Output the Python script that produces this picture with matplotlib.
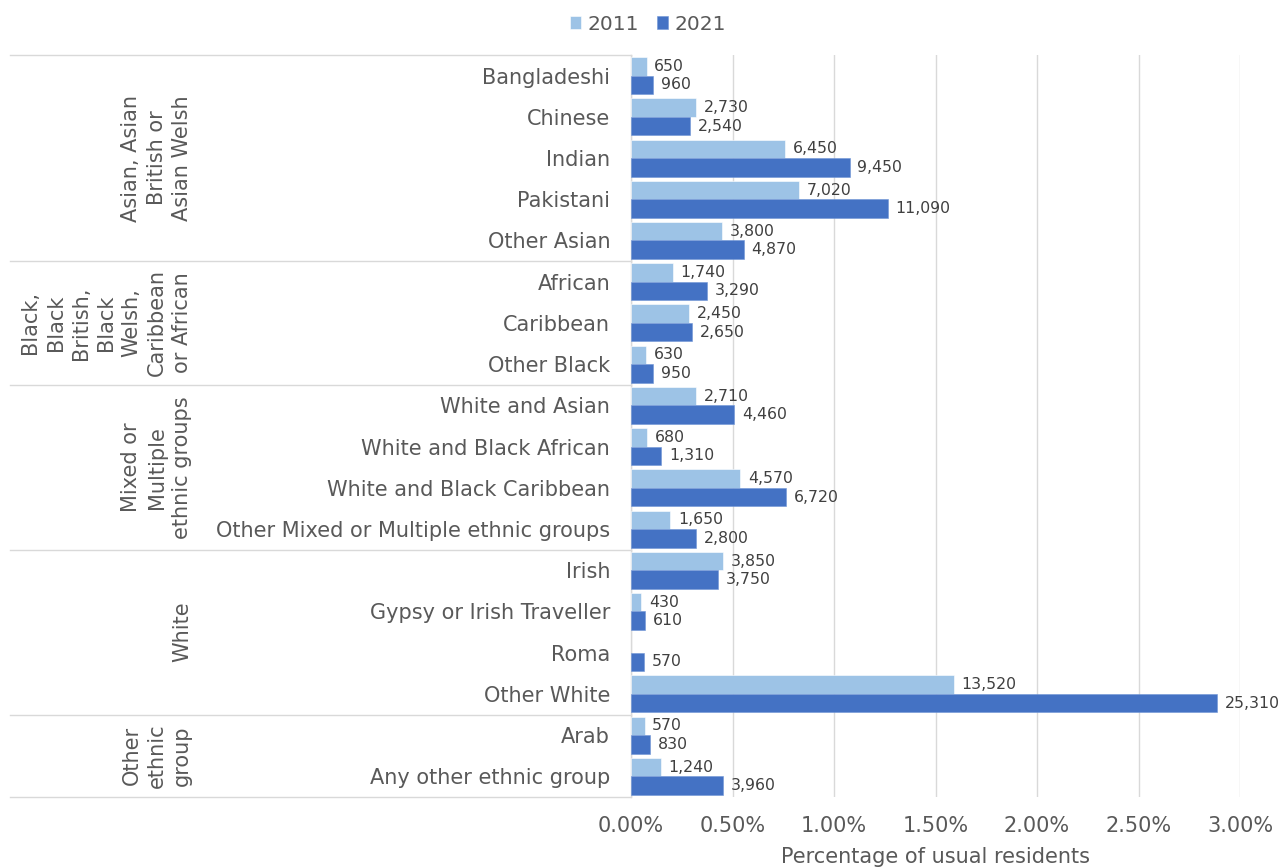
import numpy as np
import matplotlib
matplotlib.use("Agg")
import matplotlib.pyplot as plt
import matplotlib.transforms as mtransforms

categories = ["Bangladeshi", "Chinese", "Indian", "Pakistani", "Other Asian",
              "African", "Caribbean", "Other Black",
              "White and Asian", "White and Black African", "White and Black Caribbean",
              "Other Mixed or Multiple ethnic groups",
              "Irish", "Gypsy or Irish Traveller", "Roma", "Other White",
              "Arab", "Any other ethnic group"]

groups = ["Asian, Asian\nBritish or\nAsian Welsh",
          "Black,\nBlack\nBritish,\nBlack\nWelsh,\nCaribbean\nor African",
          "Mixed or\nMultiple\nethnic groups",
          "White",
          "Other\nethnic\ngroup"]
group_sizes = [5, 3, 4, 4, 2]

# percentage of usual residents (bar lengths)
pct_2011 = [0.0765, 0.321, 0.759, 0.826, 0.447,
            0.205, 0.288, 0.074,
            0.319, 0.080, 0.538, 0.194,
            0.453, 0.051, np.nan, 1.591,
            0.067, 0.146]
pct_2021 = [0.109, 0.290, 1.078, 1.265, 0.555,
            0.375, 0.302, 0.108,
            0.509, 0.149, 0.766, 0.319,
            0.428, 0.070, 0.065, 2.886,
            0.095, 0.452]

# counts shown as data labels
count_2011 = [650, 2730, 6450, 7020, 3800,
              1740, 2450, 630,
              2710, 680, 4570, 1650,
              3850, 430, None, 13520,
              570, 1240]
count_2021 = [960, 2540, 9450, 11090, 4870,
              3290, 2650, 950,
              4460, 1310, 6720, 2800,
              3750, 610, 570, 25310,
              830, 3960]

series_labels = ["2011", "2021"]
colors = ["#9DC3E6", "#4472C4"]
text_color = "#595959"
label_color = "#404040"
grid_color = "#D9D9D9"

W, H = 1283, 867
fig = plt.figure(figsize=(W / 100, H / 100), dpi=100)
ax = fig.add_axes([631 / W, 1 - 797 / H, (1240 - 631) / W, (797 - 55) / H])

y = np.arange(len(categories))
bh = 0.45
b1 = ax.barh(y - bh / 2, pct_2011, height=bh, color=colors[0], label=series_labels[0],
             edgecolor="white", linewidth=0.4, zorder=3)
b2 = ax.barh(y + bh / 2, pct_2021, height=bh, color=colors[1], label=series_labels[1],
             edgecolor="#6F95D6", linewidth=0.4, zorder=3)

for yi, v, c in zip(y, pct_2011, count_2011):
    if c is not None:
        ax.annotate(f"{c:,}", xy=(v, yi - bh / 2), xytext=(5.5, 0), textcoords="offset points",
                    va="center", ha="left", fontsize=11.3, color=label_color)
for yi, v, c in zip(y, pct_2021, count_2021):
    if c is not None:
        ax.annotate(f"{c:,}", xy=(v, yi + bh / 2), xytext=(5.5, 0), textcoords="offset points",
                    va="center", ha="left", fontsize=11.3, color=label_color)

ax.set_xlim(0, 3.0)
ax.set_ylim(len(categories) - 0.5, -0.5)
ax.set_xticks(np.arange(0, 3.01, 0.5))
ax.set_xticklabels([f"{t:.2f}%" for t in np.arange(0, 3.01, 0.5)])
ax.set_yticks(y)
ax.set_yticklabels(categories)
ax.tick_params(axis="y", length=0, pad=15, labelsize=15, labelcolor=text_color)
ax.tick_params(axis="x", length=0, pad=14, labelsize=15, labelcolor=text_color)
ax.grid(axis="x", color=grid_color, linewidth=1, zorder=0)
for s in ["top", "right", "bottom"]:
    ax.spines[s].set_visible(False)
ax.spines["left"].set_color(grid_color)
ax.spines["left"].set_linewidth(1)

# group separators and labels
trans = mtransforms.blended_transform_factory(ax.transAxes, ax.transData)
xline0 = (10 - 631) / (1240 - 631)
bounds = np.concatenate([[0], np.cumsum(group_sizes)]) - 0.5
for b in bounds:
    ax.plot([xline0, 0], [b, b], transform=trans, color=grid_color, linewidth=1, clip_on=False)
xg = (192 - 631) / (1240 - 631)
for g, lo, hi in zip(groups, bounds[:-1], bounds[1:]):
    ax.text(xg, (lo + hi) / 2, g, transform=trans, rotation=90, ha="right", va="center",
            multialignment="center", fontsize=15, color=text_color, linespacing=1.33)

fig.text(935.5 / W, 1 - 863 / H, "Percentage of usual residents", ha="center", va="baseline",
         fontsize=15, color=text_color)

leg = fig.legend(handles=[b1, b2], labels=series_labels, loc="center",
                 bbox_to_anchor=(648 / W, 1 - 24 / H), ncol=2, frameon=False,
                 fontsize=14.5, handlelength=0.56, handleheight=0.56, handletextpad=0.3,
                 columnspacing=0.9, labelcolor=text_color)

fig.savefig("out.png", dpi=100)
